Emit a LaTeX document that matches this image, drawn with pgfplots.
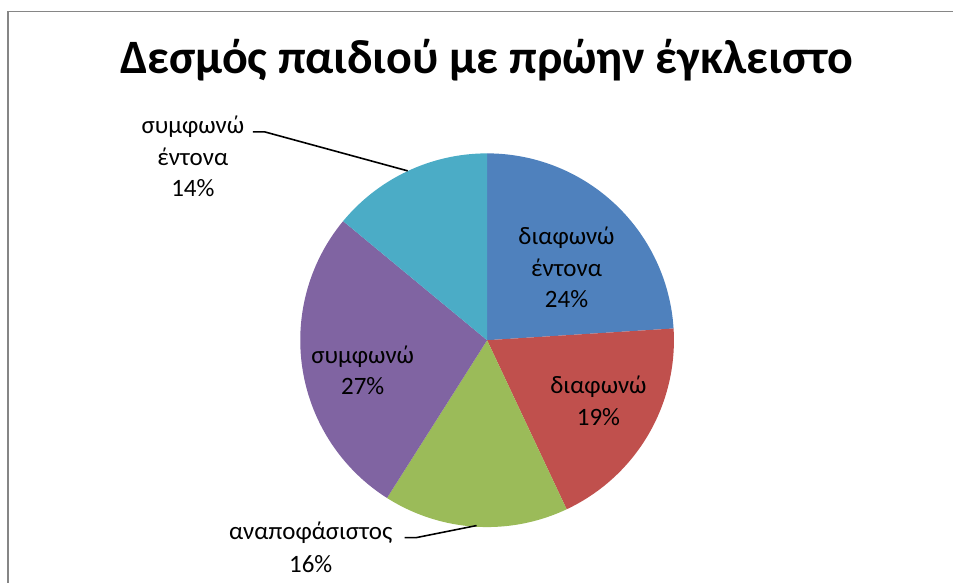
\documentclass[border=0pt]{standalone}
\usepackage{fontspec}
\setmainfont{Carlito}
\usepackage{pgfplots}
\pgfplotsset{compat=1.18}
\definecolor{c1}{HTML}{4F81BD}
\definecolor{c2}{HTML}{C0504D}
\definecolor{c3}{HTML}{9BBB59}
\definecolor{c4}{HTML}{8064A2}
\definecolor{c5}{HTML}{4BACC6}
\definecolor{frame}{RGB}{134,134,134}
\tikzset{lbl/.style={font=\fontsize{25}{31}\selectfont, inner sep=0pt, anchor=base}}
% pie values (percent): διαφωνώ έντονα 24, διαφωνώ 19, αναποφάσιστος 16, συμφωνώ 27, συμφωνώ έντονα 14
\newcommand{\cx}{487.5}
\newcommand{\cy}{242.5}
\newcommand{\R}{187}
\begin{document}
\begin{tikzpicture}
\begin{axis}[
  hide axis, scale only axis, width=954pt, height=583pt,
  xmin=0, xmax=954, ymin=0, ymax=583, clip=false,
]
\path (axis cs:0,0) rectangle (axis cs:954,583);
% slices, clockwise from 12 o'clock
\addplot[draw=none, fill=c1, domain={90-24*3.6}:90, samples=80, variable=\t]
  ({\cx+\R*cos(\t)},{\cy+\R*sin(\t)}) -- (axis cs:\cx,\cy) -- cycle;
\addplot[draw=none, fill=c2, domain={90-43*3.6}:{90-24*3.6}, samples=80, variable=\t]
  ({\cx+\R*cos(\t)},{\cy+\R*sin(\t)}) -- (axis cs:\cx,\cy) -- cycle;
\addplot[draw=none, fill=c3, domain={90-59*3.6}:{90-43*3.6}, samples=80, variable=\t]
  ({\cx+\R*cos(\t)},{\cy+\R*sin(\t)}) -- (axis cs:\cx,\cy) -- cycle;
\addplot[draw=none, fill=c4, domain={90-86*3.6}:{90-59*3.6}, samples=80, variable=\t]
  ({\cx+\R*cos(\t)},{\cy+\R*sin(\t)}) -- (axis cs:\cx,\cy) -- cycle;
\addplot[draw=none, fill=c5, domain={90-100*3.6}:{90-86*3.6}, samples=80, variable=\t]
  ({\cx+\R*cos(\t)},{\cy+\R*sin(\t)}) -- (axis cs:\cx,\cy) -- cycle;
% frame
\draw[frame, line width=1.6pt] (axis cs:8,0) -- (axis cs:8,571.5) -- (axis cs:954,571.5);
% title
\node[anchor=base, inner sep=0pt, font=\fontsize{48}{56}\selectfont\bfseries] at (axis cs:487,509) {Δεσμός παιδιού με πρώην έγκλειστο};
% labels
\node[lbl] at (axis cs:567,{583-245}) {διαφωνώ};
\node[lbl] at (axis cs:567,{583-277}) {έντονα};
\node[lbl] at (axis cs:567,{583-308}) {24\%};
\node[lbl] at (axis cs:599,{583-394}) {διαφωνώ};
\node[lbl] at (axis cs:599,{583-426}) {19\%};
\node[lbl] at (axis cs:363,{583-364}) {συμφωνώ};
\node[lbl] at (axis cs:363,{583-395}) {27\%};
\node[lbl] at (axis cs:311,{583-540}) {αναποφάσιστος};
\node[lbl] at (axis cs:311,{583-573}) {16\%};
\node[lbl] at (axis cs:193,{583-134}) {συμφωνώ};
\node[lbl] at (axis cs:193,{583-166}) {έντονα};
\node[lbl] at (axis cs:193,{583-197}) {14\%};
% leader lines
\draw[black, line width=1.6pt] (axis cs:253,{583-132}) -- (axis cs:265,{583-132}) -- (axis cs:408,{583-171});
\draw[black, line width=1.6pt] (axis cs:405,{583-538}) -- (axis cs:417,{583-538}) -- (axis cs:477,{583-526});
\end{axis}
\end{tikzpicture}
\end{document}
